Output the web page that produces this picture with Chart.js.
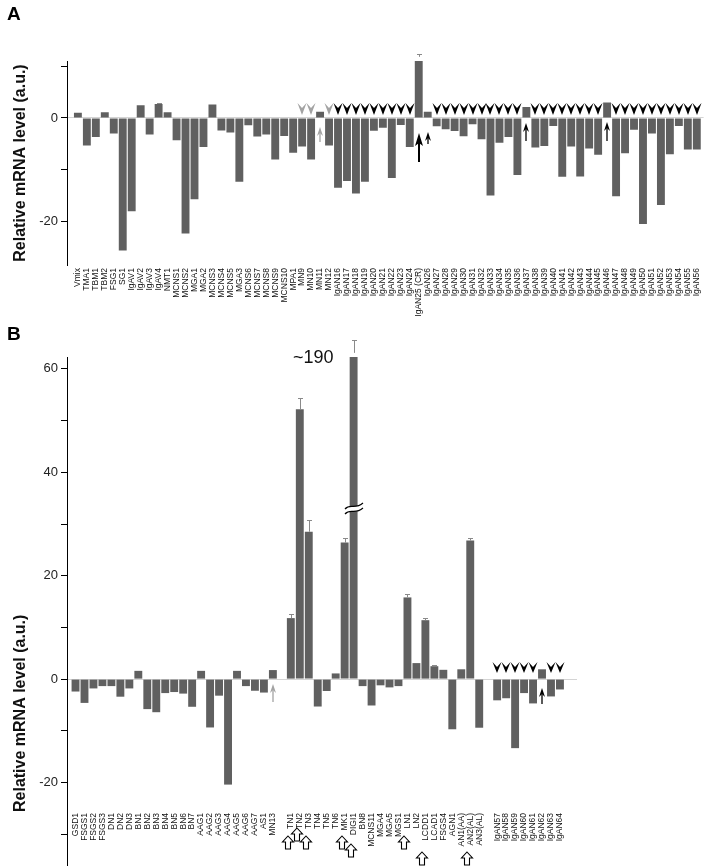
<!DOCTYPE html>
<html lang="en">
<head>
<meta charset="UTF-8">
<title>Relative mRNA level</title>
<script src="https://cdn.jsdelivr.net/npm/chart.js@4/dist/chart.umd.min.js"></script>
<style>
  html, body { margin: 0; padding: 0; background: #fff; }
  body { width: 710px; height: 866px; position: relative; overflow: hidden; font-family: Arial, "Liberation Sans", sans-serif; }
  canvas { position: absolute; left: 0; }
  .tag { position: absolute; font: bold 19px Arial, "Liberation Sans", sans-serif; line-height: 1; z-index: 2; }
</style>
</head>
<body>
<canvas id="chartA" style="top:0" width="710" height="330"></canvas>
<canvas id="chartB" style="top:330px" width="710" height="536"></canvas>
<div class="tag" style="left:7px;top:4px">A</div>
<div class="tag" style="left:7px;top:324px">B</div>
<script>
const BAR = '#606060';
const FONT = 'Arial, "Liberation Sans", sans-serif';

// ---- panel A ----
const labelsA = ['Vmix','TMA1','TBM1','TBM2','FSG1','SG1','IgAV1','IgAV2','IgAV3','IgAV4','NMT1',
  'MCNS1','MCNS2','MGA1','MGA2','MCNS3','MCNS4','MCNS5','MGA3','MCNS6','MCNS7','MCNS8','MCNS9','MCNS10',
  'MPA1','MN9','MN10','MN11','MN12',
  'IgAN16','IgAN17','IgAN18','IgAN19','IgAN20','IgAN21','IgAN22','IgAN23','IgAN24','IgAN25 (CR)','IgAN26',
  'IgAN27','IgAN28','IgAN29','IgAN30','IgAN31','IgAN32','IgAN33','IgAN34','IgAN35','IgAN36','IgAN37',
  'IgAN38','IgAN39','IgAN40','IgAN41','IgAN42','IgAN43','IgAN44','IgAN45','IgAN46',
  'IgAN47','IgAN48','IgAN49','IgAN50','IgAN51','IgAN52','IgAN53','IgAN54','IgAN55','IgAN56'];
const valuesA = [1.0,-5.3,-3.7,1.1,-3.0,-25.6,-18.0,2.45,-3.2,2.7,1.1,
  -4.3,-22.3,-15.7,-5.6,2.6,-2.4,-2.8,-12.3,-1.4,-3.6,-3.2,-8.0,-3.5,
  -6.7,-5.5,-8.0,1.2,-5.3,
  -13.5,-12.2,-14.6,-12.3,-2.45,-1.9,-11.6,-1.35,-5.6,11.8,1.2,
  -1.6,-2.2,-2.5,-3.55,-1.2,-4.1,-15.0,-4.8,-3.7,-11.0,2.1,
  -5.7,-5.4,-1.55,-11.35,-5.5,-11.3,-5.9,-7.1,3.0,
  -15.1,-6.8,-2.3,-20.5,-3.0,-16.8,-7.0,-1.55,-6.1,-6.1];
const errLabelsA = ['IgAV4', 'IgAN25 (CR)'];
const errValuesA = [0.2, 0.5];
const grayHeadsA = ['MN9', 'MN10', 'MN12'];
const noHeadA = ['IgAN25 (CR)', 'IgAN26', 'IgAN37', 'IgAN46'];
const headsA = labelsA.filter(l => l.startsWith('IgAN') && !noHeadA.includes(l));
const posA = labelsA.map((_, i) => i);

// ---- panel B (DIGI1 is ~190, drawn on a broken axis) ----
const labelsB1 = ['GSD1','FSGS1','FSGS2','FSGS3','DN1','DN2','DN3','BN1','BN2','BN3','BN4','BN5','BN6','BN7',
  'AAG1','AAG2','AAG3','AAG4','AAG5','AAG6','AAG7','AS1','MN13'];
const valuesB1 = [-2.4,-4.6,-1.8,-1.35,-1.35,-3.4,-1.8,1.6,-5.8,-6.4,-2.7,-2.5,-2.8,-5.35,
  1.6,-9.35,-3.2,-20.4,1.6,-1.35,-2.25,-2.6,1.75];
const labelsB2 = ['TN1','TN2','TN3','TN4','TN5','TN6','MK1','DIGI1','BN8','MCNS11','MGA4','MGA5','MGS1',
  'LN1','LN2','LCDD1','LCAD1','FSGS4','AGN1','AN1(AA)','AN2(AL)','AN3(AL)'];
const valuesB2 = [11.8,52.2,28.5,-5.3,-2.3,1.1,26.4,63.1,-1.35,-5.1,-1.2,-1.6,-1.35,
  15.8,3.1,11.4,2.5,1.8,-9.7,1.9,26.8,-9.4];
const labelsB3 = ['IgAN57','IgAN58','IgAN59','IgAN60','IgAN61','IgAN62','IgAN63','IgAN64'];
const valuesB3 = [-4.1,-3.7,-13.35,-2.7,-4.7,1.9,-3.35,-2.0];
const errLabelsB = ['TN1','TN2','TN3','MK1','DIGI1','LN1','LCDD1','LCAD1','AN2(AL)'];
const errValuesB = [0.7, 2.2, 2.3, 0.8, 2.5, 0.6, 0.5, 0.2, 0.4];
const headsB = ['IgAN57','IgAN58','IgAN59','IgAN60','IgAN61','IgAN63','IgAN64'];

const labelsB = [...labelsB1, ...labelsB2, ...labelsB3];
const valuesB = [...valuesB1, ...valuesB2, ...valuesB3];
// one empty slot between the groups
const posB = [...labelsB1.map((_, i) => i), ...labelsB2.map((_, i) => 24 + i), ...labelsB3.map((_, i) => 47 + i)];

function head(ctx, cx, tip, color, h) {
  ctx.fillStyle = color;
  ctx.beginPath();
  ctx.moveTo(cx - 4.5, tip - h);
  ctx.lineTo(cx, tip - h + 5);
  ctx.lineTo(cx + 4.5, tip - h);
  ctx.lineTo(cx, tip);
  ctx.closePath();
  ctx.fill();
}

function upArrow(ctx, cx, top, bottom, color, big) {
  const hw = big ? 4 : 3, hh = big ? 13 : 9;
  ctx.strokeStyle = color; ctx.fillStyle = color;
  ctx.lineWidth = big ? 2 : 1.3;
  ctx.beginPath(); ctx.moveTo(cx, top + hh - 3); ctx.lineTo(cx, bottom); ctx.stroke();
  ctx.beginPath();
  ctx.moveTo(cx, top); ctx.lineTo(cx - hw, top + hh); ctx.lineTo(cx, top + hh - 3); ctx.lineTo(cx + hw, top + hh);
  ctx.closePath(); ctx.fill();
}

function openArrow(ctx, cx, top) {
  ctx.beginPath();
  ctx.moveTo(cx, top); ctx.lineTo(cx + 5.5, top + 6); ctx.lineTo(cx + 2.5, top + 6); ctx.lineTo(cx + 2.5, top + 13);
  ctx.lineTo(cx - 2.5, top + 13); ctx.lineTo(cx - 2.5, top + 6); ctx.lineTo(cx - 5.5, top + 6); ctx.closePath();
  ctx.fillStyle = '#fff'; ctx.fill();
  ctx.strokeStyle = '#000'; ctx.lineWidth = 1.1; ctx.stroke();
}

function makeMarks(cfg) {
  return {
    id: 'marks',
    afterDatasetsDraw(chart) {
      const ctx = chart.ctx, xs = chart.scales.x, ys = chart.scales.y;
      const cx = l => Math.round(xs.getPixelForValue(cfg.pos[cfg.labels.indexOf(l)]));
      const y0 = ys.getPixelForValue(0);
      ctx.save();
      cfg.errLabels.forEach((l, k) => {
        const v = cfg.values[cfg.labels.indexOf(l)];
        const x = cx(l) + 0.5, yt = ys.getPixelForValue(v), ye = Math.round(ys.getPixelForValue(v + cfg.errValues[k])) + 0.5;
        ctx.strokeStyle = '#8a8a8a'; ctx.lineWidth = 1;
        ctx.beginPath(); ctx.moveTo(x, yt); ctx.lineTo(x, ye); ctx.moveTo(x - 2.5, ye); ctx.lineTo(x + 2.5, ye); ctx.stroke();
      });
      cfg.heads.forEach(l => head(ctx, cx(l), y0 - cfg.headGap, '#000', cfg.headH));
      (cfg.grayHeads || []).forEach(l => head(ctx, cx(l), y0 - cfg.headGap, '#a3a3a3', cfg.headH));
      cfg.ups.forEach(u => upArrow(ctx, cx(u.label), y0 + u.from, y0 + u.to, u.color, u.big));
      (cfg.opens || []).forEach(o => openArrow(ctx, cx(o.label) - 3, chart.chartArea.bottom + o.dy));
      if (cfg.extra) cfg.extra(chart, ctx, cx, ys);
      ctx.restore();
    }
  };
}

function makeChart(id, labels, values, pos, xmin, xmax, ymin, ymax, area, marks) {
  return new Chart(document.getElementById(id), {
    type: 'bar',
    data: {
      datasets: [{
        data: values.map((v, i) => ({ x: pos[i], y: v })),
        backgroundColor: BAR,
        borderWidth: 0,
        barPercentage: 0.88,
        categoryPercentage: 1
      }]
    },
    options: {
      responsive: false,
      animation: false,
      layout: { padding: { top: area.top, right: area.right, left: 0, bottom: 0 } },
      plugins: { legend: { display: false }, tooltip: { enabled: false } },
      scales: {
        x: {
          type: 'linear', min: xmin, max: xmax, offset: false,
          afterFit: s => { s.height = area.xh; },
          afterBuildTicks: s => { s.ticks = pos.map(p => ({ value: p })); },
          border: { display: false },
          grid: { display: false, drawTicks: false, offset: false },
          ticks: {
            autoSkip: false, minRotation: 90, maxRotation: 90, padding: area.xpad,
            color: '#111', font: { size: 8.5, family: FONT },
            callback: (v) => labels[pos.indexOf(v)]
          }
        },
        y: {
          min: ymin, max: ymax,
          afterFit: s => { s.width = 67; },
          border: { display: true, color: '#000', width: 1 },
          grid: {
            color: c => (c.tick && c.tick.value === 0 ? '#d4d4d4' : 'rgba(0,0,0,0)'),
            tickColor: '#000', tickLength: 6, drawTicks: true
          },
          ticks: {
            stepSize: 10, includeBounds: false, padding: 3,
            color: '#222', font: { size: 13, family: FONT },
            callback: v => (v % 20 === 0 ? String(v) : '')
          },
          title: {
            display: true, text: 'Relative mRNA level (a.u.)', align: area.titleAlign,
            color: '#111', font: { size: 16, weight: 'bold', family: FONT },
            padding: { top: 11, bottom: 0 }
          }
        }
      }
    },
    plugins: [marks]
  });
}

makeChart('chartA', labelsA, valuesA, posA, -1.214, 69.76, -28.4, 11.0,
  { top: 61, right: 0, xh: 65, xpad: 3, titleAlign: 'center' },
  makeMarks({
    labels: labelsA, values: valuesA, pos: posA,
    errLabels: errLabelsA, errValues: errValuesA,
    heads: headsA, grayHeads: grayHeadsA, headGap: 3, headH: 12,
    ups: [
      { label: 'MN11', from: 9, to: 24, color: '#a3a3a3' },
      { label: 'IgAN25 (CR)', from: 15, to: 44, color: '#000', big: true },
      { label: 'IgAN26', from: 14, to: 26, color: '#000' },
      { label: 'IgAN37', from: 5, to: 23, color: '#000' },
      { label: 'IgAN46', from: 4, to: 23, color: '#000' }
    ]
  }));

makeChart('chartB', labelsB, valuesB, posB, -0.95, 55.9, -25.7, 62.3,
  { top: 27, right: 133, xh: 54, xpad: 1, titleAlign: 'start' },
  makeMarks({
    labels: labelsB, values: valuesB, pos: posB,
    errLabels: errLabelsB, errValues: errValuesB,
    heads: headsB, headGap: 6, headH: 11,
    ups: [
      { label: 'MN13', from: 5, to: 23, color: '#a3a3a3' },
      { label: 'IgAN62', from: 9, to: 25, color: '#000' }
    ],
    opens: [
      { label: 'TN1', dy: 24 }, { label: 'TN2', dy: 16 }, { label: 'TN3', dy: 24 },
      { label: 'MK1', dy: 24 }, { label: 'DIGI1', dy: 32 }, { label: 'LN1', dy: 24 },
      { label: 'LCDD1', dy: 40 }, { label: 'AN2(AL)', dy: 40 }
    ],
    extra(chart, ctx, cx, ys) {
      const a = chart.chartArea;
      // axis continues below the labels
      ctx.strokeStyle = '#000'; ctx.lineWidth = 1;
      ctx.beginPath();
      ctx.moveTo(a.left + 0.5, a.bottom); ctx.lineTo(a.left + 0.5, chart.height);
      const y30 = Math.round(ys.getPixelForValue(-30)) + 0.5;
      ctx.moveTo(a.left - 6, y30); ctx.lineTo(a.left, y30);
      ctx.stroke();
      // axis break on DIGI1
      const bx = cx('DIGI1'), by = ys.getPixelForValue(33);
      const wave = dy => {
        ctx.beginPath();
        ctx.moveTo(bx - 9, by + 3 + dy);
        ctx.bezierCurveTo(bx - 4, by - 3 + dy, bx + 1, by + 4 + dy, bx + 9, by - 3 + dy);
      };
      ctx.strokeStyle = '#fff'; ctx.lineWidth = 5; wave(0); ctx.stroke();
      ctx.strokeStyle = '#000'; ctx.lineWidth = 1.2; wave(-2.5); ctx.stroke(); wave(2.5); ctx.stroke();
      // true value of the broken bar
      ctx.fillStyle = '#111';
      ctx.font = '18px ' + FONT;
      ctx.textBaseline = 'alphabetic';
      ctx.fillText('~190', 293, 33);
    }
  }));
</script>
</body>
</html>
